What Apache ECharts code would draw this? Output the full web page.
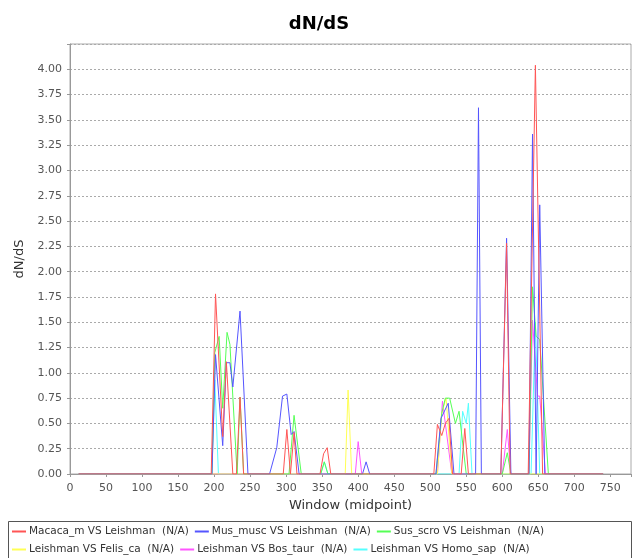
<!DOCTYPE html>
<html>
<head>
<meta charset="utf-8">
<script src="https://cdn.jsdelivr.net/npm/echarts@6/dist/echarts.min.js"></script>
<style>
html,body{margin:0;padding:0;background:#fff;}
#chart{width:638px;height:558px;}
</style>
</head>
<body>
<div id="chart"></div>
<script>
// ---- Data ----
const seriesNames = [
  'Macaca_m VS Leishman  (N/A)',
  'Mus_musc VS Leishman  (N/A)',
  'Sus_scro VS Leishman  (N/A)',
  'Leishman VS Felis_ca  (N/A)',
  'Leishman VS Bos_taur  (N/A)',
  'Leishman VS Homo_sap  (N/A)'
];
const seriesColors = ['#ff5555', '#5555ff', '#55ff55', '#ffff55', '#ff55ff', '#55ffff'];

const macacaX = [12, 196, 202, 212, 217, 226, 231, 236, 241, 296, 301, 306, 311, 315, 347, 352, 357, 362, 505, 510, 516, 521, 526, 531, 543, 548, 553, 598, 606, 611, 636, 646, 656, 740];
const macacaY = [0, 0, 1.78, 0.37, 1.11, 0, 0, 0.76, 0, 0, 0.44, 0, 0.41, 0, 0, 0.20, 0.26, 0, 0, 0.49, 0.38, 0.50, 0.55, 0, 0, 0.45, 0, 0, 2.28, 0, 0, 4.04, 0, 0];

const musX = [12, 197, 202, 212, 217, 222, 226, 236, 247, 277, 287, 295, 301, 307, 311, 318, 406, 411, 416, 508, 515, 525, 533, 563, 567, 571, 598, 606, 612, 637, 642, 647, 652, 659, 740];
const musY = [0, 0, 1.18, 0.28, 1.10, 1.10, 0.86, 1.61, 0, 0, 0.26, 0.77, 0.79, 0.39, 0.42, 0, 0, 0.12, 0, 0, 0.55, 0.70, 0, 0, 3.62, 0, 0, 2.33, 0, 0, 3.36, 0, 2.66, 0, 0];

const susX = [12, 197, 201, 207, 212, 218, 222, 232, 236, 241, 304, 311, 321, 348, 353, 358, 508, 516, 521, 527, 535, 540, 550, 600, 607, 612, 637, 642, 647, 652, 664, 740];
const susY = [0, 0, 1.20, 1.36, 0.65, 1.40, 1.28, 0, 0.76, 0, 0, 0.58, 0, 0, 0.12, 0, 0, 0.60, 0.75, 0.75, 0.50, 0.62, 0, 0, 0.21, 0, 0, 1.85, 1.36, 1.33, 0, 0];

const felisX = [12, 382, 386, 391, 510, 516, 522, 530, 740];
const felisY = [0, 0, 0.83, 0, 0, 0.60, 0.75, 0, 0];

const bosX = [12, 396, 400, 405, 510, 517, 530, 600, 607, 612, 637, 642, 649, 652, 660, 740];
const bosY = [0, 0, 0.32, 0, 0, 0.72, 0, 0, 0.44, 0, 0, 1.52, 0.77, 0.77, 0, 0];

const homoX = [12, 197, 201, 206, 348, 353, 358, 540, 545, 550, 553, 558, 640, 646, 652, 740];
const homoY = [0, 0, 0.93, 0, 0, 0.12, 0, 0, 0.62, 0.50, 0.70, 0, 0, 1.50, 0, 0];

const xTicks = [0, 50, 100, 150, 200, 250, 300, 350, 400, 450, 500, 550, 600, 650, 700, 750];
const yTicks = ['0.00','0.25','0.50','0.75','1.00','1.25','1.50','1.75','2.00','2.25','2.50','2.75','3.00','3.25','3.50','3.75','4.00'];

// ---- Build ----
const allX = [macacaX, musX, susX, felisX, bosX, homoX];
const allY = [macacaY, musY, susY, felisY, bosY, homoY];
function pairs(xs, ys) { return xs.map((x, i) => [x, ys[i]]); }

const FONT = 'DejaVu Sans';
const series = [];
for (let i = seriesNames.length - 1; i >= 0; i--) {
  series.push({
    name: seriesNames[i],
    type: 'line',
    data: pairs(allX[i], allY[i]),
    showSymbol: false,
    symbol: 'none',
    color: seriesColors[i],
    lineStyle: { color: seriesColors[i], width: 1 },
    itemStyle: { color: seriesColors[i] },
    emphasis: { disabled: true },
    animation: false
  });
}

function legendItems(from, to) {
  const out = [];
  for (let i = from; i < to; i++) {
    out.push({
      name: seriesNames[i],
      icon: 'rect',
      itemStyle: { color: seriesColors[i], borderColor: seriesColors[i], borderWidth: 0, opacity: 1 },
      lineStyle: { color: seriesColors[i], width: 2, opacity: 1 }
    });
  }
  return out;
}

const chart = echarts.init(document.getElementById('chart'), null, { renderer: 'canvas' });
const legendCommon = {
  orient: 'horizontal',
  icon: 'rect',
  itemWidth: 14,
  itemHeight: 2,
  itemGap: 6,
  padding: 0,
  selectedMode: false,
  textStyle: { fontFamily: FONT, fontSize: 10.5, color: '#333', padding: [0, 0, 0, -2] }
};
chart.setOption({
  animation: false,
  backgroundColor: '#ffffff',
  title: {
    text: 'dN/dS',
    left: 'center',
    top: 10,
    textStyle: { fontFamily: FONT, fontSize: 18, fontWeight: 'bold', color: '#000' }
  },
  legend: [
    Object.assign({}, legendCommon, { left: 12, top: 526, data: legendItems(0, 3) }),
    Object.assign({}, legendCommon, { left: 12, top: 544, data: legendItems(3, 6) })
  ],
  graphic: [
    { type: 'rect', shape: { x: 8.5, y: 521.5, width: 623, height: 40 }, style: { fill: 'none', stroke: '#555', lineWidth: 1 }, silent: true, z: -1 }
  ],
  grid: { left: 70, top: 44, right: 7, bottom: 84, show: true, borderColor: '#aaaaaa', borderWidth: 1, backgroundColor: '#fff' },
  xAxis: {
    type: 'value',
    min: 0,
    max: 778.7,
    interval: 50,
    offset: 3,
    name: 'Window (midpoint)',
    nameLocation: 'middle',
    nameGap: 21,
    nameTextStyle: { fontFamily: FONT, fontSize: 13, color: '#333' },
    axisLine: { show: true, lineStyle: { color: '#999', width: 1 } },
    axisTick: { show: true, length: 3, lineStyle: { color: '#999' } },
    axisLabel: {
      fontFamily: FONT, fontSize: 11, color: '#555', margin: 6,
      formatter: v => (xTicks.indexOf(v) >= 0 ? String(v) : '')
    },
    splitLine: { show: false }
  },
  yAxis: {
    type: 'value',
    min: 0,
    max: 4.25,
    interval: 0.25,
    offset: 3,
    name: 'dN/dS',
    nameLocation: 'middle',
    nameGap: 34,
    nameTextStyle: { fontFamily: FONT, fontSize: 13, color: '#333' },
    axisLine: { show: true, lineStyle: { color: '#999', width: 1 } },
    axisTick: { show: true, length: 3, lineStyle: { color: '#999' } },
    axisLabel: {
      fontFamily: FONT, fontSize: 11, color: '#555', margin: 5,
      formatter: v => { const s = v.toFixed(2); return (yTicks.indexOf(s) >= 0 && v <= 4.0001) ? s : ''; }
    },
    splitLine: { show: true, lineStyle: { color: '#aaaaaa', type: [2, 2], width: 1 } }
  },
  series: series
});
</script>
</body>
</html>
